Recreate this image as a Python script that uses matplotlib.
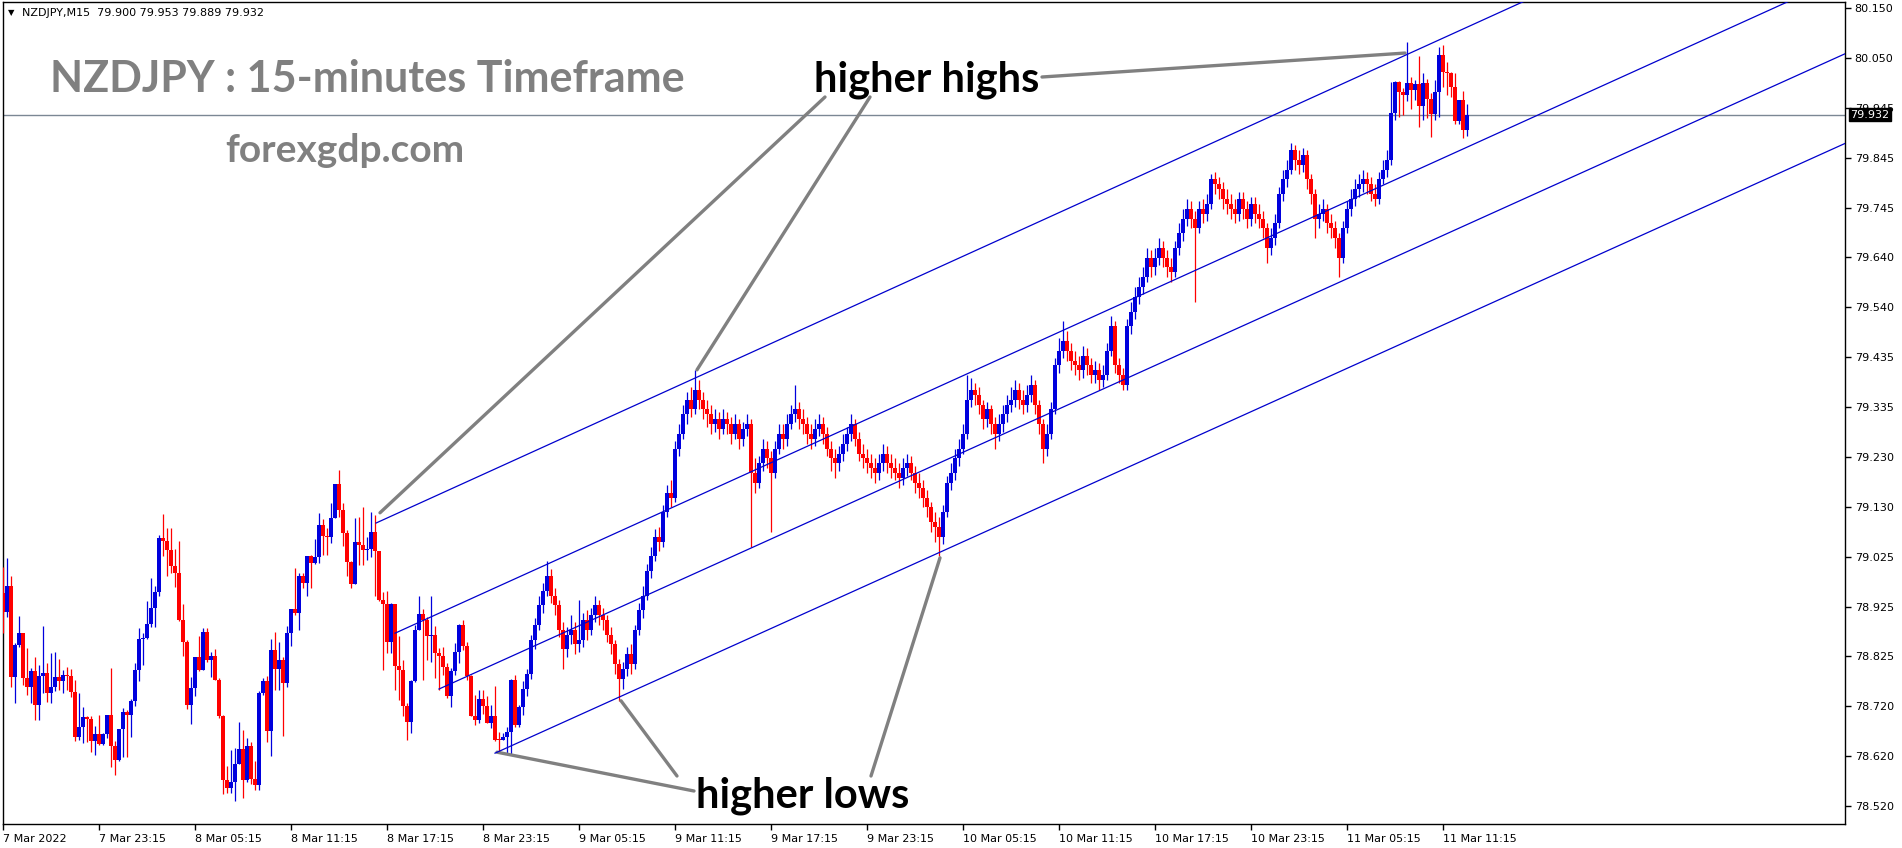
import numpy as np
import matplotlib.pyplot as plt

# NZDJPY M15 candles, first bar 7 Mar 17:15, last bar 11 Mar 12:45
first_open = 78.955
close = [78.917, 78.970, 78.784, 78.849, 78.873, 78.781, 78.764, 78.796, 78.726, 78.786,
         78.791, 78.750, 78.764, 78.783, 78.776, 78.788, 78.786, 78.752, 78.660, 78.682,
         78.701, 78.697, 78.652, 78.667, 78.646, 78.667, 78.706, 78.643, 78.614, 78.677,
         78.713, 78.706, 78.735, 78.798, 78.861, 78.863, 78.892, 78.925, 78.957, 79.067,
         79.062, 79.043, 79.010, 78.995, 78.900, 78.856, 78.726, 78.761, 78.824, 78.798,
         78.876, 78.818, 78.827, 78.778, 78.703, 78.573, 78.556, 78.570, 78.606, 78.636,
         78.573, 78.643, 78.575, 78.563, 78.750, 78.776, 78.674, 78.839, 78.799, 78.818,
         78.771, 78.874, 78.923, 78.915, 78.990, 78.976, 79.030, 79.016, 79.028, 79.094,
         79.072, 79.069, 79.108, 79.178, 79.125, 79.077, 79.019, 78.974, 79.060, 79.053,
         79.043, 79.045, 79.079, 79.040, 78.941, 78.933, 78.856, 78.933, 78.806, 78.798,
         78.724, 78.692, 78.776, 78.880, 78.912, 78.901, 78.867, 78.870, 78.832, 78.827,
         78.805, 78.745, 78.795, 78.835, 78.890, 78.846, 78.786, 78.704, 78.696, 78.738,
         78.724, 78.690, 78.703, 78.655, 78.654, 78.660, 78.672, 78.778, 78.686, 78.723,
         78.760, 78.790, 78.860, 78.890, 78.930, 78.960, 78.990, 78.950, 78.930, 78.880,
         78.840, 78.870, 78.880, 78.850, 78.860, 78.900, 78.880, 78.910, 78.930, 78.910,
         78.900, 78.870, 78.850, 78.810, 78.780, 78.800, 78.830, 78.810, 78.880, 78.920,
         78.950, 79.000, 79.030, 79.070, 79.060, 79.120, 79.160, 79.150, 79.250, 79.280,
         79.320, 79.350, 79.330, 79.370, 79.350, 79.330, 79.320, 79.300, 79.310, 79.290,
         79.310, 79.300, 79.280, 79.300, 79.270, 79.290, 79.300, 79.200, 79.180, 79.220,
         79.250, 79.230, 79.200, 79.250, 79.280, 79.270, 79.300, 79.320, 79.330, 79.310,
         79.300, 79.280, 79.270, 79.290, 79.300, 79.280, 79.250, 79.230, 79.220, 79.240,
         79.260, 79.280, 79.300, 79.270, 79.240, 79.230, 79.220, 79.210, 79.200, 79.220,
         79.240, 79.220, 79.210, 79.200, 79.190, 79.210, 79.220, 79.200, 79.180, 79.170,
         79.150, 79.130, 79.100, 79.090, 79.070, 79.120, 79.180, 79.200, 79.230, 79.250,
         79.280, 79.350, 79.370, 79.360, 79.340, 79.310, 79.330, 79.300, 79.280, 79.300,
         79.320, 79.340, 79.350, 79.370, 79.350, 79.340, 79.360, 79.380, 79.340, 79.300,
         79.250, 79.280, 79.330, 79.420, 79.450, 79.470, 79.450, 79.430, 79.420, 79.410,
         79.440, 79.420, 79.400, 79.410, 79.390, 79.400, 79.450, 79.500, 79.420, 79.400,
         79.380, 79.500, 79.530, 79.560, 79.580, 79.600, 79.640, 79.620, 79.640, 79.660,
         79.640, 79.620, 79.610, 79.660, 79.690, 79.720, 79.740, 79.720, 79.700, 79.740,
         79.730, 79.750, 79.800, 79.790, 79.780, 79.760, 79.750, 79.740, 79.730, 79.760,
         79.740, 79.720, 79.750, 79.730, 79.720, 79.700, 79.660, 79.680, 79.710, 79.770,
         79.800, 79.820, 79.860, 79.840, 79.830, 79.850, 79.800, 79.770, 79.720, 79.730,
         79.740, 79.710, 79.700, 79.680, 79.640, 79.700, 79.740, 79.760, 79.780, 79.790,
         79.800, 79.790, 79.770, 79.760, 79.800, 79.820, 79.840, 79.935, 79.998, 79.979,
         79.972, 79.997, 79.983, 79.995, 79.950, 79.997, 79.964, 79.933, 79.979, 80.055,
         80.020, 80.017, 79.989, 79.920, 79.962, 79.900, 79.932]
high = [79.009, 79.026, 78.990, 78.854, 78.908, 78.873, 78.842, 78.801, 78.825, 78.808,
        78.888, 78.812, 78.832, 78.835, 78.820, 78.798, 78.805, 78.799, 78.778, 78.750,
        78.723, 78.703, 78.703, 78.684, 78.706, 78.669, 78.706, 78.801, 78.653, 78.677,
        78.720, 78.716, 78.738, 78.813, 78.883, 78.873, 78.939, 78.985, 78.970, 79.074,
        79.117, 79.087, 79.087, 79.044, 79.062, 78.932, 78.859, 78.784, 78.825, 78.867,
        78.883, 78.883, 78.835, 78.840, 78.781, 78.706, 78.602, 78.635, 78.638, 78.692,
        78.675, 78.658, 78.650, 78.611, 78.754, 78.781, 78.786, 78.861, 78.875, 78.856,
        78.825, 78.888, 78.923, 79.007, 78.995, 78.995, 79.031, 79.033, 79.065, 79.119,
        79.106, 79.087, 79.138, 79.178, 79.207, 79.138, 79.084, 79.021, 79.108, 79.111,
        79.130, 79.070, 79.121, 79.115, 79.036, 78.958, 78.960, 78.934, 78.917, 78.867,
        78.818, 78.730, 78.778, 78.889, 78.949, 78.922, 78.907, 78.949, 78.888, 78.842,
        78.844, 78.812, 78.801, 78.854, 78.892, 78.901, 78.856, 78.788, 78.747, 78.757,
        78.758, 78.744, 78.726, 78.765, 78.672, 78.670, 78.682, 78.779, 78.788, 78.726,
        78.775, 78.800, 78.870, 78.905, 78.950, 78.975, 79.020, 79.005, 78.965, 78.940,
        78.895, 78.885, 78.910, 78.895, 78.940, 78.915, 78.920, 78.925, 78.950, 78.940,
        78.925, 78.910, 78.885, 78.860, 78.820, 78.815, 78.845, 78.850, 78.890, 78.935,
        78.970, 79.015, 79.050, 79.085, 79.090, 79.135, 79.175, 79.185, 79.265, 79.300,
        79.340, 79.365, 79.375, 79.410, 79.390, 79.365, 79.350, 79.340, 79.330, 79.325,
        79.330, 79.325, 79.315, 79.320, 79.310, 79.305, 79.320, 79.310, 79.230, 79.235,
        79.270, 79.265, 79.245, 79.265, 79.300, 79.300, 79.320, 79.340, 79.380, 79.345,
        79.330, 79.315, 79.300, 79.310, 79.320, 79.315, 79.295, 79.265, 79.250, 79.255,
        79.280, 79.295, 79.320, 79.310, 79.285, 79.260, 79.250, 79.240, 79.230, 79.240,
        79.260, 79.255, 79.240, 79.230, 79.220, 79.230, 79.240, 79.235, 79.215, 79.200,
        79.185, 79.165, 79.140, 79.120, 79.110, 79.135, 79.195, 79.220, 79.250, 79.270,
        79.300, 79.400, 79.395, 79.385, 79.375, 79.350, 79.345, 79.340, 79.315, 79.320,
        79.340, 79.360, 79.375, 79.390, 79.385, 79.370, 79.380, 79.400, 79.390, 79.350,
        79.310, 79.300, 79.345, 79.435, 79.475, 79.510, 79.490, 79.465, 79.450, 79.440,
        79.460, 79.455, 79.435, 79.430, 79.425, 79.420, 79.465, 79.520, 79.510, 79.435,
        79.415, 79.515, 79.550, 79.580, 79.600, 79.620, 79.660, 79.655, 79.660, 79.680,
        79.675, 79.655, 79.640, 79.675, 79.710, 79.740, 79.760, 79.755, 79.735, 79.755,
        79.760, 79.770, 79.810, 79.815, 79.805, 79.795, 79.780, 79.770, 79.760, 79.775,
        79.775, 79.755, 79.765, 79.765, 79.750, 79.735, 79.710, 79.700, 79.730, 79.785,
        79.820, 79.840, 79.875, 79.870, 79.860, 79.865, 79.860, 79.810, 79.780, 79.750,
        79.760, 79.750, 79.730, 79.715, 79.690, 79.715, 79.755, 79.780, 79.800, 79.810,
        79.820, 79.815, 79.805, 79.790, 79.815, 79.840, 79.860, 79.999, 80.000, 80.000,
        79.986, 80.081, 80.010, 80.004, 80.052, 80.017, 80.006, 79.976, 80.003, 80.071,
        80.074, 80.040, 80.020, 80.017, 79.962, 79.981, 79.953]
low = [78.873, 78.907, 78.764, 78.730, 78.844, 78.767, 78.747, 78.730, 78.696, 78.696,
       78.750, 78.733, 78.731, 78.754, 78.757, 78.750, 78.757, 78.742, 78.652, 78.655,
       78.648, 78.650, 78.631, 78.624, 78.645, 78.645, 78.658, 78.599, 78.583, 78.611,
       78.621, 78.621, 78.662, 78.724, 78.776, 78.808, 78.861, 78.885, 78.885, 78.950,
       79.031, 78.989, 78.997, 78.967, 78.897, 78.827, 78.718, 78.687, 78.744, 78.795,
       78.800, 78.815, 78.784, 78.778, 78.699, 78.545, 78.546, 78.546, 78.531, 78.606,
       78.536, 78.570, 78.566, 78.553, 78.553, 78.747, 78.650, 78.623, 78.757, 78.757,
       78.663, 78.764, 78.846, 78.910, 78.880, 78.965, 78.949, 78.966, 79.015, 79.017,
       79.033, 79.033, 79.058, 79.108, 79.110, 79.051, 78.990, 78.965, 78.974, 79.012,
       79.012, 79.023, 79.028, 78.948, 78.938, 78.798, 78.832, 78.832, 78.756, 78.737,
       78.703, 78.655, 78.670, 78.774, 78.880, 78.778, 78.818, 78.815, 78.781, 78.757,
       78.788, 78.740, 78.722, 78.788, 78.812, 78.839, 78.778, 78.703, 78.686, 78.689,
       78.709, 78.689, 78.679, 78.652, 78.631, 78.656, 78.628, 78.624, 78.682, 78.682,
       78.705, 78.745, 78.780, 78.840, 78.880, 78.915, 78.950, 78.935, 78.910, 78.865,
       78.800, 78.825, 78.850, 78.830, 78.835, 78.845, 78.860, 78.870, 78.895, 78.890,
       78.880, 78.855, 78.830, 78.790, 78.735, 78.760, 78.785, 78.790, 78.800, 78.870,
       78.905, 78.940, 78.985, 79.020, 79.040, 79.050, 79.110, 79.130, 79.140, 79.235,
       79.270, 79.300, 79.315, 79.320, 79.330, 79.310, 79.295, 79.280, 79.285, 79.270,
       79.280, 79.280, 79.260, 79.270, 79.250, 79.255, 79.275, 79.050, 79.160, 79.170,
       79.205, 79.210, 79.080, 79.190, 79.240, 79.250, 79.255, 79.290, 79.305, 79.290,
       79.280, 79.260, 79.250, 79.255, 79.275, 79.260, 79.235, 79.205, 79.190, 79.205,
       79.225, 79.245, 79.265, 79.255, 79.225, 79.210, 79.200, 79.190, 79.180, 79.185,
       79.205, 79.200, 79.190, 79.185, 79.170, 79.175, 79.195, 79.185, 79.160, 79.150,
       79.130, 79.110, 79.080, 79.060, 79.030, 79.055, 79.110, 79.165, 79.185, 79.215,
       79.240, 79.270, 79.335, 79.340, 79.320, 79.290, 79.295, 79.280, 79.250, 79.265,
       79.285, 79.305, 79.325, 79.335, 79.330, 79.320, 79.325, 79.345, 79.320, 79.280,
       79.220, 79.235, 79.270, 79.320, 79.405, 79.435, 79.430, 79.410, 79.400, 79.390,
       79.395, 79.400, 79.385, 79.385, 79.370, 79.375, 79.390, 79.440, 79.405, 79.385,
       79.370, 79.370, 79.485, 79.515, 79.545, 79.565, 79.590, 79.600, 79.605, 79.625,
       79.620, 79.600, 79.590, 79.600, 79.645, 79.675, 79.705, 79.700, 79.550, 79.690,
       79.710, 79.715, 79.740, 79.770, 79.760, 79.740, 79.730, 79.720, 79.710, 79.715,
       79.720, 79.700, 79.705, 79.710, 79.700, 79.680, 79.630, 79.645, 79.665, 79.700,
       79.755, 79.785, 79.810, 79.820, 79.810, 79.815, 79.780, 79.750, 79.680, 79.700,
       79.715, 79.690, 79.680, 79.660, 79.600, 79.630, 79.690, 79.725, 79.745, 79.765,
       79.775, 79.770, 79.755, 79.745, 79.750, 79.790, 79.805, 79.830, 79.921, 79.928,
       79.932, 79.960, 79.943, 79.962, 79.906, 79.921, 79.925, 79.887, 79.921, 79.928,
       79.989, 79.972, 79.969, 79.914, 79.914, 79.884, 79.889]

last_price = 79.932
header = "NZDJPY,M15  79.900 79.953 79.889 79.932"

time_ticks = list(range(0, 361, 24))
time_labels = ["7 Mar 2022", "7 Mar 23:15", "8 Mar 05:15", "8 Mar 11:15", "8 Mar 17:15",
               "8 Mar 23:15", "9 Mar 05:15", "9 Mar 11:15", "9 Mar 17:15", "9 Mar 23:15",
               "10 Mar 05:15", "10 Mar 11:15", "10 Mar 17:15", "10 Mar 23:15",
               "11 Mar 05:15", "11 Mar 11:15"]
price_labels = ["80.150", "80.050", "79.945", "79.845", "79.745", "79.640", "79.540",
                "79.435", "79.335", "79.230", "79.130", "79.025", "78.925", "78.825",
                "78.720", "78.620", "78.520"]

# channel lines (bar index, price)
chan_start_bar = [93.25, 98, 109, 123]
chan_start_price = [79.098, 78.873, 78.759, 78.628]
chan_end_bar = [361.75, 361.75, 361.75, 361.75]
chan_end_price = [80.095, 79.850, 79.692, 79.509]

# annotation targets (bar index, price)
highs_pts = [(94.25, 79.119), (173.5, 79.411), (350.5, 80.058)]
lows_pts = [(123.5, 78.630), (154.5, 78.735), (234.25, 79.027)]

W, H = 1902, 848
fig = plt.figure(figsize=(W / 100, H / 100), dpi=100)
ax = fig.add_axes([2.5 / W, 24 / H, (1845 - 2.5) / W, (824 - 2) / H])

n = len(close)
x = np.arange(n)
o = np.array([first_open] + close[:-1])
c = np.array(close)
hi = np.maximum(np.array(high), np.maximum(o, c))
lo = np.minimum(np.array(low), np.minimum(o, c))
up = c >= o
cols = np.where(up, '#0000dd', '#ff0000')

ax.vlines(x, lo, hi, colors=cols, lw=0.9, zorder=3)
body = np.maximum(np.abs(c - o), 0.0022)
ax.bar(x, body, bottom=np.minimum(o, c), width=0.76, color=cols, linewidth=0, zorder=3)

ax.axhline(last_price, color='#7b8794', lw=1.0, zorder=2)

ymin, ymax = 78.4833, 80.1623
xmax = 460.5
for b0, p0, b1, p1 in zip(chan_start_bar, chan_start_price, chan_end_bar, chan_end_price):
    k = (p1 - p0) / (b1 - b0)
    ax.plot([b0, xmax + 20], [p0, p0 + k * (xmax + 20 - b0)], color='#0000cd', lw=0.9, zorder=4)

ax.set_xlim(-0.125, xmax)
ax.set_ylim(ymin, ymax)

ax.yaxis.tick_right()
ax.set_yticks(np.linspace(80.150, 78.520, 17))
ax.set_yticklabels(price_labels)
ax.set_xticks(time_ticks)
ax.set_xticklabels(time_labels, ha='left')
ax.tick_params(axis='both', direction='out', length=4, width=1, labelsize=8, colors='black')
ax.tick_params(axis='y', pad=3)
ax.tick_params(axis='x', pad=3)
for s in ax.spines.values():
    s.set_linewidth(1)
    s.set_color('black')

ax.annotate(f"{last_price:.3f}", xy=(1, last_price), xycoords=('axes fraction', 'data'),
            xytext=(4, 0), textcoords='offset points', va='center', ha='left',
            color='white', fontsize=8,
            bbox=dict(boxstyle='square,pad=0.15', fc='black', ec='black'), zorder=10,
            annotation_clip=False)

fig.text(8 / W, 1 - 13 / H, "\u25bc", fontsize=6, va='center', ha='left')
fig.text(22 / W, 1 - 13 / H, header, fontsize=8, va='center', ha='left')

fig.text(50 / W, 1 - 79 / H, "NZDJPY : 15-minutes Timeframe", fontsize=31,
         fontweight='bold', family='Lato', color='#808080', va='center', ha='left')
fig.text(225 / W, 1 - 150 / H, "forexgdp.com", fontsize=28,
         fontweight='bold', family='Lato', color='#808080', va='center', ha='left')

fig.text(927 / W, 1 - 80 / H, "higher highs", fontsize=30, fontweight='bold',
         family='Lato', color='black', va='center', ha='center')
fig.text(803 / W, 1 - 796 / H, "higher lows", fontsize=30, fontweight='bold',
         family='Lato', color='black', va='center', ha='center')

hh_start = [(825, 97), (870, 97), (1042, 77)]
hl_start = [(694, 791), (677, 776), (871, 776)]
for (px, py), tgt in zip(hh_start + hl_start, highs_pts + lows_pts):
    ax.annotate('', xy=tgt, xycoords='data', xytext=(px, H - py), textcoords='figure pixels',
                arrowprops=dict(arrowstyle='-', color='#808080', lw=2.4,
                                shrinkA=0, shrinkB=0), annotation_clip=False)

fig.savefig('out.png', dpi=100)
